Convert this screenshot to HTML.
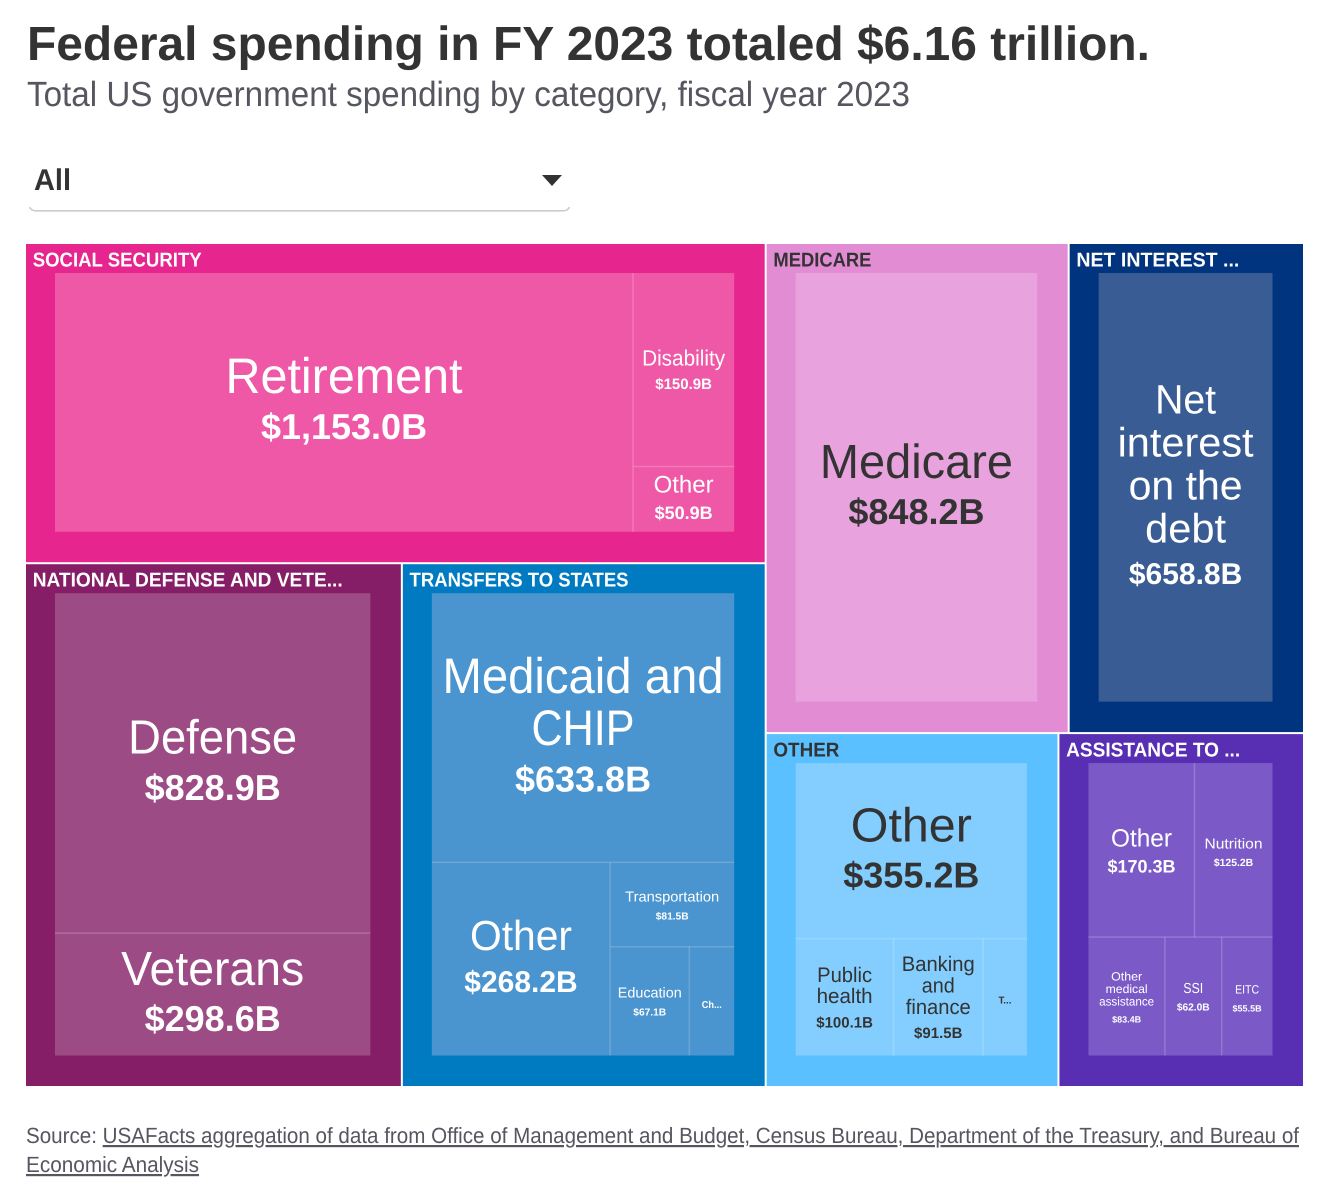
<!DOCTYPE html>
<html lang="en">
<head>
<meta charset="utf-8">
<title>Federal spending in FY 2023</title>
<style>
html,body{margin:0;padding:0;background:#fff;width:1340px;height:1204px;overflow:hidden}
svg{display:block;position:absolute;left:0;top:0}
text{font-family:"Liberation Sans",sans-serif;text-rendering:geometricPrecision}
</style>
</head>
<body>
<svg id="chart" width="1340" height="1204" viewBox="0 0 1340 1204" xmlns="http://www.w3.org/2000/svg">
  <text x="27" y="60" font-size="48" font-weight="700" fill="#333333" textLength="1123" lengthAdjust="spacingAndGlyphs">Federal spending in FY 2023 totaled $6.16 trillion.</text>
  <text x="27" y="106" font-size="35" fill="#55565f" textLength="883" lengthAdjust="spacingAndGlyphs">Total US government spending by category, fiscal year 2023</text>
  <g>
    <rect x="29" y="148" width="541" height="64" fill="#ffffff"/>
    <path d="M29.5 207 Q31 210.8 36 210.8 H563 Q568 210.8 569.5 207" fill="none" stroke="#cccccc" stroke-width="1.6"/>
    <text x="34" y="190" font-size="30" font-weight="700" fill="#333333" textLength="37" lengthAdjust="spacingAndGlyphs">All</text>
    <path d="M542 175 H562 L552 186 Z" fill="#333333"/>
  </g>
  <g id="treemap"></g>
  <text x="26" y="1143" font-size="22" fill="#55565f" textLength="1273" lengthAdjust="spacingAndGlyphs">Source: <tspan text-decoration="underline">USAFacts aggregation of data from Office of Management and Budget, Census Bureau, Department of the Treasury, and Bureau of</tspan></text>
  <text x="26" y="1172" font-size="22" fill="#55565f" textLength="173" lengthAdjust="spacingAndGlyphs" text-decoration="underline">Economic Analysis</text>
</svg>
<script>
/* ---------- chart data ---------- */
const groupLabels = ["SOCIAL SECURITY", "NATIONAL DEFENSE AND VETE...", "TRANSFERS TO STATES", "MEDICARE", "NET INTEREST ...", "OTHER", "ASSISTANCE TO ..."];
const leafLabels = ["Retirement", "Disability", "Other", "Defense", "Veterans", "Medicaid and|CHIP", "Other", "Transportation", "Education", "Ch...", "Medicare", "Net|interest|on the|debt", "Other", "Public|health", "Banking|and|finance", "T...", "Other", "Nutrition", "Other|medical|assistance", "SSI", "EITC"];
const leafValues = [1153.0, 150.9, 50.9, 828.9, 298.6, 633.8, 268.2, 81.5, 67.1, 38.0, 848.2, 658.8, 355.2, 100.1, 91.5, 45.0, 170.3, 125.2, 83.4, 62.0, 55.5];

/* ---------- hierarchy (leaf indices nested by split direction) ---------- */
function h(...kids) { return { dir: 'h', kids: kids }; }
function v(...kids) { return { dir: 'v', kids: kids }; }
const groupTrees = [
  h(0, v(1, 2)),
  v(3, 4),
  v(5, h(6, v(7, h(8, 9)))),
  10,
  11,
  v(12, h(13, 14, 15)),
  v(h(16, 17), h(18, 19, 20))
];
const rootTree = h(
  v({ group: 0 }, h({ group: 1 }, { group: 2 })),
  v(h({ group: 3 }, { group: 4 }), h({ group: 5 }, { group: 6 }))
);

/* ---------- presentation ---------- */
const plot = { x: 25, y: 243, w: 1279, h: 844, gapInset: 1, padStart: 29, padEnd: 30.5 };
const groupFill = ["#e6258e", "#861e67", "#007bc2", "#e28cd4", "#00347f", "#5bc0ff", "#582fb3"];
const cellFill = ["#ef58a6", "#9d4b85", "#4a94cf", "#e8a3de", "#3a5c94", "#83ceff", "#7b5ac8"];
const inkColor = ["#ffffff", "#ffffff", "#ffffff", "#333333", "#ffffff", "#333333", "#ffffff"];
const groupLabelFit = [169, 310, 219, 98, 163, 66, 174];
/* size, line height, value size, value line height, per-line fitted widths, nudge, bold label */
const typography = [
  { s: 50, lh: 50, vs: 36, vlh: 44, fit: [237], dy: 0 },
  { s: 22, lh: 24, vs: 15, vlh: 23, fit: [83], dy: 1 },
  { s: 24, lh: 26, vs: 18, vlh: 26, fit: [60], dy: 0 },
  { s: 48, lh: 50, vs: 36, vlh: 44, fit: [169], dy: 0 },
  { s: 48, lh: 50, vs: 36, vlh: 44, fit: [183], dy: 0 },
  { s: 50, lh: 52, vs: 36, vlh: 44, fit: [281, 103], dy: 0 },
  { s: 42, lh: 44, vs: 30, vlh: 40, fit: [102], dy: 0 },
  { s: 14.5, lh: 16, vs: 10.2, vlh: 18, fit: [94], dy: 2 },
  { s: 14.5, lh: 16, vs: 10.2, vlh: 18, fit: [64], dy: 1.5 },
  { s: 10, lh: 10, vs: 0, vlh: 0, fit: [20], dy: 4.5, bold: true },
  { s: 48, lh: 50, vs: 36, vlh: 44, fit: [193], dy: 0 },
  { s: 41, lh: 43, vs: 30, vlh: 40, fit: [61, 136, 114, 81], dy: 0 },
  { s: 48, lh: 50, vs: 36, vlh: 44, fit: [121], dy: 0 },
  { s: 21, lh: 21, vs: 15, vlh: 25, fit: [55, 56], dy: 2.5 },
  { s: 21, lh: 21.5, vs: 15, vlh: 24, fit: [73, 33, 65], dy: 2 },
  { s: 10, lh: 10, vs: 0, vlh: 0, fit: [13], dy: 4, bold: true },
  { s: 25, lh: 27, vs: 18, vlh: 25, fit: [61], dy: 2 },
  { s: 14.5, lh: 16, vs: 10.4, vlh: 17, fit: [58], dy: 3 },
  { s: 12, lh: 12.5, vs: 9, vlh: 18, fit: [31, 42, 55], dy: 2.5 },
  { s: 14.5, lh: 16, vs: 10.2, vlh: 18, fit: [20], dy: 1.5 },
  { s: 12, lh: 16, vs: 9, vlh: 18, fit: [24], dy: 2 }
];

/* ---------- layout helpers ---------- */
const NS = 'http://www.w3.org/2000/svg';
const root = document.getElementById('treemap');

function slug(text) {
  return text.toLowerCase().replace(/[^a-z0-9]+/g, '-').replace(/^-|-$/g, '');
}
function formatValue(val) {
  return '$' + val.toLocaleString('en-US', { minimumFractionDigits: 1, maximumFractionDigits: 1 }) + 'B';
}
function leafSum(node) {
  if (typeof node === 'number') return leafValues[node];
  if (node.group !== undefined) return leafSum(groupTrees[node.group]);
  return node.kids.reduce(function (acc, kid) { return acc + leafSum(kid); }, 0);
}
/* axis functions: map a cumulative value onto a pixel span */
function spanScale(start, length, total) {
  return function (cum) { return start + length * cum / total; };
}
function splitRect(node, rect, visit) {
  const total = leafSum(node);
  const scale = node.dir === 'h' ? spanScale(rect.x, rect.w, total) : spanScale(rect.y, rect.h, total);
  let cum = 0;
  node.kids.forEach(function (kid, i) {
    const a = scale(cum);
    cum += leafSum(kid);
    const b = scale(cum);
    const sub = node.dir === 'h'
      ? { x: a, y: rect.y, w: b - a, h: rect.h }
      : { x: rect.x, y: a, w: rect.w, h: b - a };
    visit(kid, sub, i > 0 ? node.dir : null);
  });
}

/* ---------- drawing ---------- */
function drawLeaf(index, rect, groupIndex, parent) {
  const style = typography[index];
  const name = slug(leafLabels[index].replace(/\|/g, ' ')) + '-' + index;

  const cell = document.createElementNS(NS, 'g');
  
  
  parent.appendChild(cell);

  const box = document.createElementNS(NS, 'rect');
  
  
  box.setAttribute('x', rect.x);
  box.setAttribute('y', rect.y);
  box.setAttribute('width', rect.w);
  box.setAttribute('height', rect.h);
  box.setAttribute('fill', cellFill[groupIndex]);
  cell.appendChild(box);

  const lines = leafLabels[index].split('|');
  const block = lines.length * style.lh + style.vlh;
  const top = rect.y + rect.h / 2 - block / 2 + style.dy;
  const cx = rect.x + rect.w / 2;

  lines.forEach(function (line, i) {
    const label = document.createElementNS(NS, 'text');
    
    
    label.setAttribute('x', cx);
    label.setAttribute('y', top + style.lh * i + style.lh * 0.78 - style.s * 0.03);
    label.setAttribute('text-anchor', 'middle');
    label.setAttribute('font-size', style.s);
    label.setAttribute('fill', inkColor[groupIndex]);
    if (style.bold) label.setAttribute('font-weight', '700');
    label.setAttribute('textLength', style.fit[i]);
    label.setAttribute('lengthAdjust', 'spacingAndGlyphs');
    label.textContent = line;
    cell.appendChild(label);
  });

  if (style.vs > 0) {
    const amount = document.createElementNS(NS, 'text');
    
    
    amount.setAttribute('x', cx);
    amount.setAttribute('y', top + lines.length * style.lh + style.vlh * 0.78 - style.vs * 0.012);
    amount.setAttribute('text-anchor', 'middle');
    amount.setAttribute('font-size', style.vs);
    amount.setAttribute('font-weight', '700');
    amount.setAttribute('fill', inkColor[groupIndex]);
    amount.textContent = formatValue(leafValues[index]);
    cell.appendChild(amount);
  }
}

function drawSeparator(rect, dir, parent) {
  const line = document.createElementNS(NS, 'line');
  
  
  line.setAttribute('x1', rect.x);
  line.setAttribute('y1', rect.y);
  line.setAttribute('x2', dir === 'h' ? rect.x : rect.x + rect.w);
  line.setAttribute('y2', dir === 'h' ? rect.y + rect.h : rect.y);
  line.setAttribute('stroke', '#ffffff');
  line.setAttribute('stroke-opacity', '0.2');
  line.setAttribute('stroke-width', '1.5');
  parent.appendChild(line);
}

function drawCells(node, rect, groupIndex, parent, separators) {
  if (typeof node === 'number') {
    drawLeaf(node, rect, groupIndex, parent);
    return;
  }
  splitRect(node, rect, function (kid, sub, splitDir) {
    drawCells(kid, sub, groupIndex, parent, separators);
    if (splitDir) separators.push({ rect: sub, dir: splitDir });
  });
}

function drawGroup(groupIndex, rect) {
  const inset = plot.gapInset;
  const outer = { x: rect.x + inset, y: rect.y + inset, w: rect.w - 2 * inset, h: rect.h - 2 * inset };
  const name = slug(groupLabels[groupIndex]);

  const group = document.createElementNS(NS, 'g');
  
  
  root.appendChild(group);

  const band = document.createElementNS(NS, 'rect');
  
  
  band.setAttribute('x', outer.x);
  band.setAttribute('y', outer.y);
  band.setAttribute('width', outer.w);
  band.setAttribute('height', outer.h);
  band.setAttribute('fill', groupFill[groupIndex]);
  group.appendChild(band);

  const title = document.createElementNS(NS, 'text');
  
  
  title.setAttribute('x', outer.x + 6.7);
  title.setAttribute('y', outer.y + 22.5);
  title.setAttribute('font-size', '20');
  title.setAttribute('font-weight', '700');
  title.setAttribute('fill', inkColor[groupIndex]);
  title.setAttribute('textLength', groupLabelFit[groupIndex]);
  title.setAttribute('lengthAdjust', 'spacingAndGlyphs');
  title.textContent = groupLabels[groupIndex];
  group.appendChild(title);

  const inner = {
    x: outer.x + plot.padStart,
    y: outer.y + plot.padStart,
    w: outer.w - plot.padStart - plot.padEnd,
    h: outer.h - plot.padStart - plot.padEnd
  };
  const separators = [];
  drawCells(groupTrees[groupIndex], inner, groupIndex, group, separators);
  separators.forEach(function (item) { drawSeparator(item.rect, item.dir, group); });
}

function drawRoot(node, rect) {
  if (node.group !== undefined) {
    drawGroup(node.group, rect);
    return;
  }
  splitRect(node, rect, function (kid, sub) { drawRoot(kid, sub); });
}

drawRoot(rootTree, { x: plot.x, y: plot.y, w: plot.w, h: plot.h });
</script>
</body>
</html>
